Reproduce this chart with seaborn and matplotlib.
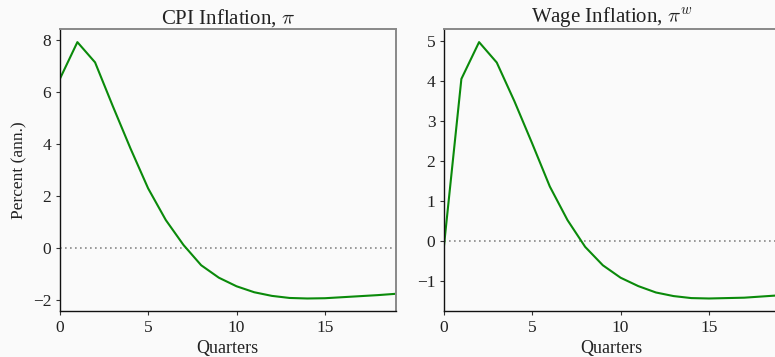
import matplotlib
matplotlib.use("Agg")
import matplotlib.pyplot as plt
import seaborn as sns
import pandas as pd
import numpy as np

quarters = list(range(20))
cpi_inflation = [6.48, 7.91, 7.13, 5.45, 3.82, 2.28, 1.06, 0.10, -0.68, -1.16,
                 -1.49, -1.72, -1.86, -1.94, -1.96, -1.95, -1.91, -1.87, -1.83, -1.78]
wage_inflation = [-0.18, 4.06, 4.98, 4.47, 3.50, 2.45, 1.37, 0.53, -0.14, -0.60,
                  -0.91, -1.12, -1.28, -1.37, -1.42, -1.43, -1.42, -1.41, -1.38, -1.35]
titles = [r"CPI Inflation, $\pi$", r"Wage Inflation, $\pi^w$"]
xlabel = "Quarters"
ylabel = "Percent (ann.)"

sns.set_style("ticks")
bg = "#fafafa"
plt.rcParams.update({
    "font.family": ["Liberation Serif", "DejaVu Serif"],
    "mathtext.fontset": "cm",
    "figure.facecolor": bg,
    "axes.facecolor": bg,
    "xtick.color": "#333333",
    "ytick.color": "#333333",
    "xtick.labelcolor": "#222222",
    "ytick.labelcolor": "#222222",
    "xtick.major.size": 3,
    "ytick.major.size": 3,
})

df = pd.DataFrame({"Quarter": quarters, "cpi": cpi_inflation, "wage": wage_inflation})

fig = plt.figure(figsize=(7.75, 3.57), dpi=100)
W, H = 775, 357
ax1 = fig.add_axes([59.7 / W, (H - 311.3) / H, 336 / W, 282 / H])
ax2 = fig.add_axes([443.7 / W, (H - 311.3) / H, 336 / W, 282 / H])

for ax, col, title in [(ax1, "cpi", titles[0]), (ax2, "wage", titles[1])]:
    sns.lineplot(data=df, x="Quarter", y=col, ax=ax, color="#0a8a0a", linewidth=1.5)
    ax.axhline(0, color="#888888", linestyle=(0, (1, 2.0)), linewidth=1.2, zorder=0)
    ax.set_xlim(0, 19)
    ax.set_xticks([0, 5, 10, 15])
    ax.set_title(title, fontsize=15, color="#222222", pad=4)
    ax.set_xlabel(xlabel, fontsize=13, color="#222222", labelpad=3)
    ax.set_ylabel("")
    ax.tick_params(labelsize=12.5, pad=3)
    for s in ["left", "bottom"]:
        ax.spines[s].set_color("#111111")
        ax.spines[s].set_linewidth(1.0)
    for s in ["top", "right"]:
        ax.spines[s].set_visible(True)
        ax.spines[s].set_color("#888888")
        ax.spines[s].set_linewidth(1.4)

ax1.set_ylabel(ylabel, fontsize=12.5, color="#222222", labelpad=4)
ax2.set_yticks([-1, 0, 1, 2, 3, 4, 5])

fig.savefig("out.png", dpi=100, facecolor=bg)
